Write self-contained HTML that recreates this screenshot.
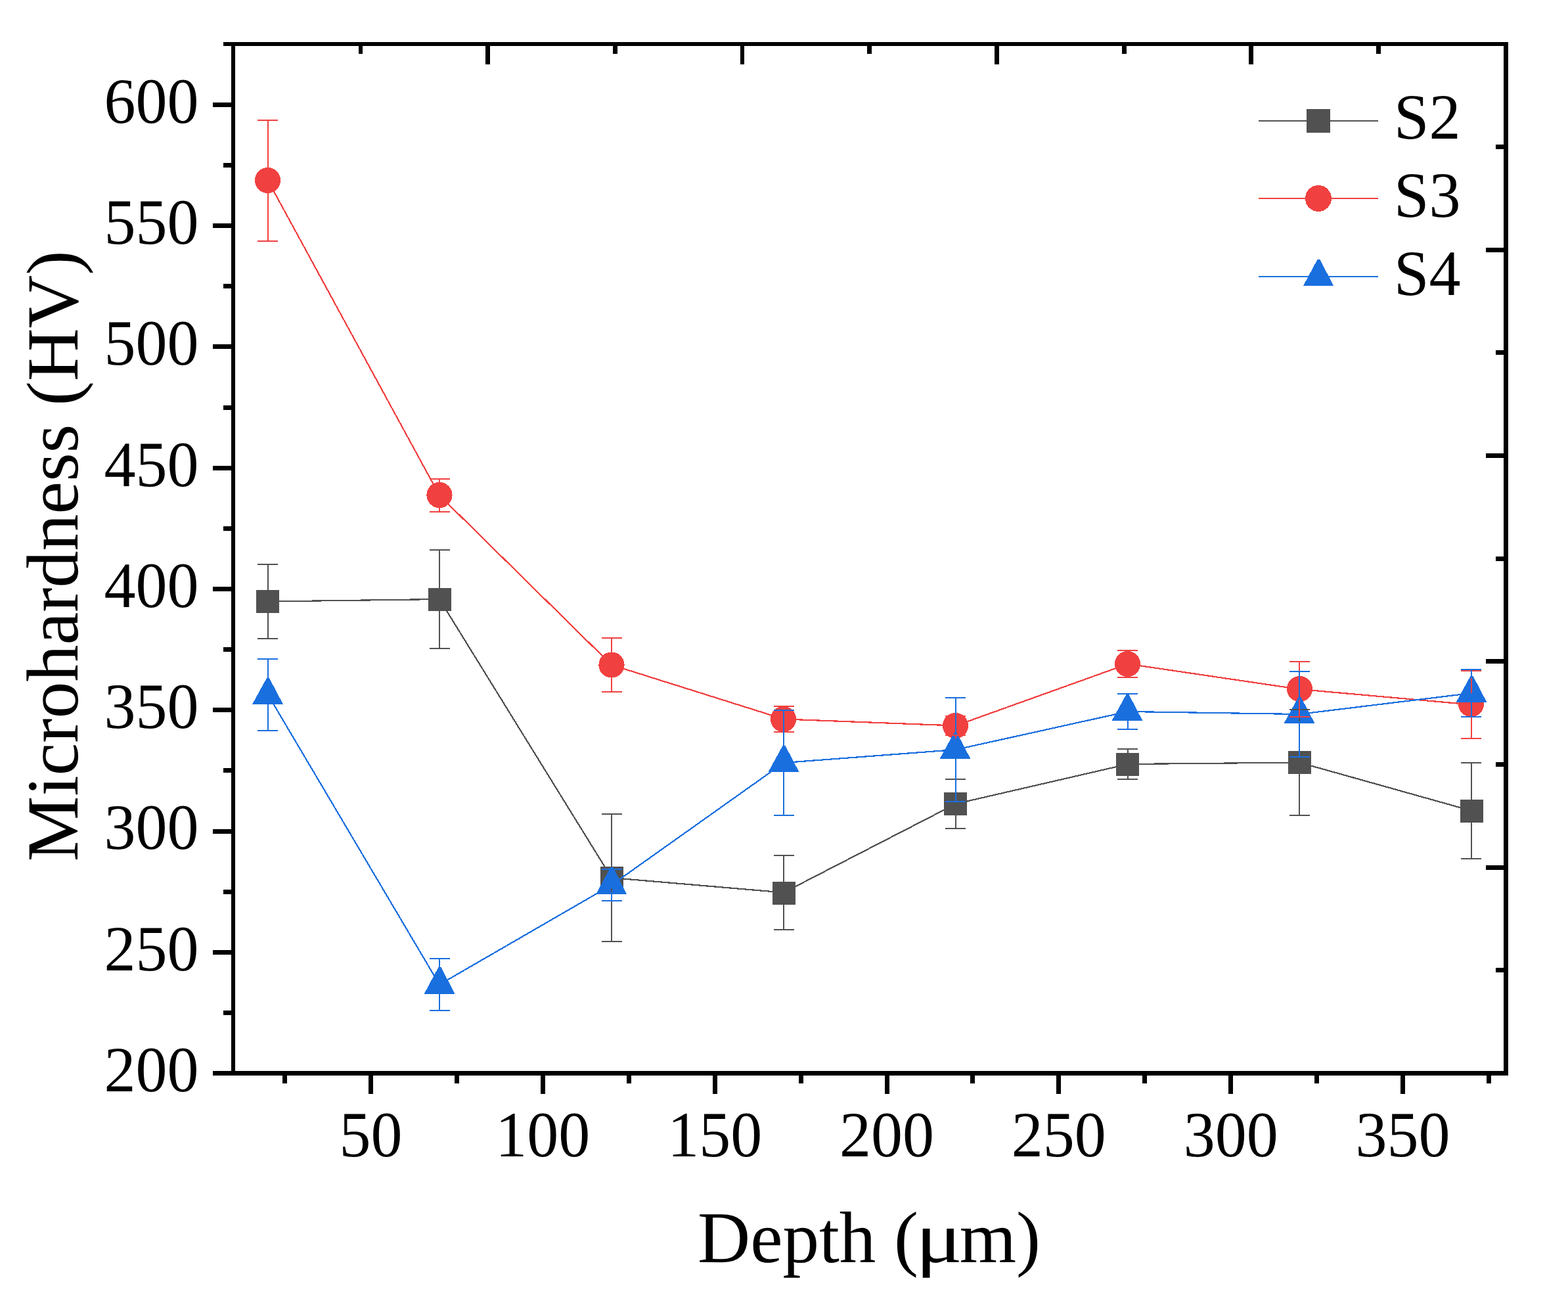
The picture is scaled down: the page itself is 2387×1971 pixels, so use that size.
<!DOCTYPE html>
<html lang="en">
<head>
<meta charset="utf-8">
<title>Microhardness (HV) vs Depth (µm)</title>
<style>
html,body{margin:0;padding:0;background:#fff;}
body{width:2387px;height:1971px;}
svg{display:block;}
text{font-family:"Liberation Serif",serif;fill:#000;font-kerning:none;text-rendering:geometricPrecision;}
.t{font-size:96px;}
.a{font-size:111px;}
.b{font-size:112px;}
</style>
</head>
<body>
<svg width="2387" height="1971" viewBox="0 0 2387 1971" shape-rendering="crispEdges">
<rect x="0" y="0" width="2387" height="1971" fill="#fff"/>
<g id="axes" fill="#000">
<rect x="340" y="64" width="1956" height="6"/>
<rect x="324" y="1630" width="1972" height="7"/>
<rect x="352" y="64" width="6" height="1573"/>
<rect x="2289" y="64" width="7" height="1573"/>
<rect x="340" y="1538" width="12" height="7"/>
<rect x="324" y="1446" width="28" height="7"/>
<rect x="340" y="1354" width="12" height="7"/>
<rect x="324" y="1262" width="28" height="7"/>
<rect x="340" y="1169" width="12" height="7"/>
<rect x="324" y="1077" width="28" height="7"/>
<rect x="340" y="985" width="12" height="7"/>
<rect x="324" y="893" width="28" height="7"/>
<rect x="340" y="801" width="12" height="7"/>
<rect x="324" y="709" width="28" height="7"/>
<rect x="340" y="617" width="12" height="7"/>
<rect x="324" y="524" width="28" height="7"/>
<rect x="340" y="432" width="12" height="7"/>
<rect x="324" y="340" width="28" height="7"/>
<rect x="340" y="248" width="12" height="7"/>
<rect x="324" y="156" width="28" height="7"/>
<rect x="430" y="1637" width="7" height="12"/>
<rect x="561" y="1637" width="7" height="28"/>
<rect x="692" y="1637" width="7" height="12"/>
<rect x="823" y="1637" width="7" height="28"/>
<rect x="954" y="1637" width="7" height="12"/>
<rect x="1085" y="1637" width="7" height="28"/>
<rect x="1216" y="1637" width="7" height="12"/>
<rect x="1347" y="1637" width="7" height="28"/>
<rect x="1477" y="1637" width="7" height="12"/>
<rect x="1608" y="1637" width="7" height="28"/>
<rect x="1739" y="1637" width="7" height="12"/>
<rect x="1870" y="1637" width="7" height="28"/>
<rect x="2001" y="1637" width="7" height="12"/>
<rect x="2132" y="1637" width="7" height="28"/>
<rect x="2263" y="1637" width="7" height="12"/>
<rect x="546" y="70" width="6" height="12"/>
<rect x="739" y="70" width="7" height="28"/>
<rect x="933" y="70" width="7" height="12"/>
<rect x="1127" y="70" width="6" height="28"/>
<rect x="1320" y="70" width="7" height="12"/>
<rect x="1514" y="70" width="7" height="28"/>
<rect x="1708" y="70" width="7" height="12"/>
<rect x="1901" y="70" width="7" height="28"/>
<rect x="2095" y="70" width="7" height="12"/>
<rect x="2277" y="220" width="12" height="7"/>
<rect x="2262" y="377" width="27" height="7"/>
<rect x="2277" y="533" width="12" height="7"/>
<rect x="2262" y="690" width="27" height="7"/>
<rect x="2277" y="847" width="12" height="7"/>
<rect x="2262" y="1003" width="27" height="7"/>
<rect x="2277" y="1160" width="12" height="7"/>
<rect x="2262" y="1317" width="27" height="7"/>
<rect x="2277" y="1473" width="12" height="7"/>
</g>
<g id="plots">
<g fill="#515151" stroke="none">
<polyline points="408,915.5 669,912 931,1336 1193,1358.5 1455,1223.5 1717,1163 1978,1160.5 2240,1234" fill="none" stroke="#515151" stroke-width="2.2"/>
<rect x="390" y="898" width="35" height="35"/>
<rect x="652" y="895" width="35" height="35"/>
<rect x="914" y="1319" width="35" height="35"/>
<rect x="1176" y="1342" width="35" height="35"/>
<rect x="1437" y="1206" width="35" height="35"/>
<rect x="1699" y="1146" width="35" height="35"/>
<rect x="1961" y="1143" width="35" height="35"/>
<rect x="2223" y="1217" width="35" height="35"/>
</g>
<g fill="#F14040" stroke="none">
<polyline points="408,275 669,754 931,1012 1193,1094.5 1455,1104.5 1717,1010.5 1978,1049 2240,1072.5" fill="none" stroke="#F14040" stroke-width="2.2"/>
<circle cx="407.5" cy="274.5" r="19.6"/>
<circle cx="669" cy="753.5" r="19.6"/>
<circle cx="931" cy="1012" r="19.6"/>
<circle cx="1192.5" cy="1094.5" r="19.6"/>
<circle cx="1454.5" cy="1104.5" r="19.6"/>
<circle cx="1716.5" cy="1010.5" r="19.6"/>
<circle cx="1978.5" cy="1048.5" r="19.6"/>
<circle cx="2239.5" cy="1071.5" r="19.6"/>
</g>
<g fill="#1A6FDF" stroke="none">
<polyline points="408,1057.5 669,1498.5 931,1347 1193,1161 1455,1141 1717,1083 1978,1087 2240,1055" fill="none" stroke="#1A6FDF" stroke-width="2.2"/>
<path d="M406 1032h4L431 1072H384Z"/>
<path d="M667.5 1472h4L692.5 1513H645.5Z"/>
<path d="M929.25 1320h4L954.25 1361H907.25Z"/>
<path d="M1191.5 1135h4L1216.5 1175H1169.5Z"/>
<path d="M1452.5 1115h4L1477.5 1155H1430.5Z"/>
<path d="M1714.5 1057h4L1739.5 1097H1692.5Z"/>
<path d="M1976.5 1061h4L2001.5 1101H1954.5Z"/>
<path d="M2238.5 1029h4L2263.5 1069H2216.5Z"/>
</g>
<g fill="#515151">
<rect x="392" y="858" width="31" height="2"/>
<rect x="392" y="971" width="31" height="2"/>
<rect x="407" y="858" width="2" height="42"/>
<rect x="407" y="931" width="2" height="42"/>
<rect x="654" y="836" width="31" height="2"/>
<rect x="654" y="986" width="31" height="2"/>
<rect x="668" y="836" width="2" height="61"/>
<rect x="668" y="928" width="2" height="60"/>
<rect x="916" y="1238" width="31" height="2"/>
<rect x="916" y="1432" width="31" height="2"/>
<rect x="930" y="1238" width="2" height="83"/>
<rect x="930" y="1352" width="2" height="82"/>
<rect x="1178" y="1301" width="31" height="2"/>
<rect x="1178" y="1414" width="31" height="2"/>
<rect x="1192" y="1301" width="2" height="43"/>
<rect x="1192" y="1375" width="2" height="41"/>
<rect x="1439" y="1185" width="31" height="2"/>
<rect x="1439" y="1260" width="31" height="2"/>
<rect x="1454" y="1185" width="2" height="23"/>
<rect x="1454" y="1239" width="2" height="23"/>
<rect x="1701" y="1139" width="31" height="2"/>
<rect x="1701" y="1185" width="31" height="2"/>
<rect x="1716" y="1139" width="2" height="9"/>
<rect x="1716" y="1179" width="2" height="8"/>
<rect x="1963" y="1079" width="31" height="2"/>
<rect x="1963" y="1240" width="31" height="2"/>
<rect x="1977" y="1079" width="2" height="66"/>
<rect x="1977" y="1176" width="2" height="66"/>
<rect x="2224" y="1160" width="31" height="2"/>
<rect x="2224" y="1306" width="31" height="2"/>
<rect x="2239" y="1160" width="2" height="59"/>
<rect x="2239" y="1250" width="2" height="58"/>
</g>
<g fill="#F14040">
<rect x="392" y="182" width="31" height="2"/>
<rect x="392" y="366" width="31" height="2"/>
<rect x="407" y="182" width="2" height="76"/>
<rect x="407" y="291" width="2" height="77"/>
<rect x="654" y="728" width="31" height="2"/>
<rect x="654" y="778" width="31" height="2"/>
<rect x="668" y="728" width="2" height="9"/>
<rect x="668" y="770" width="2" height="10"/>
<rect x="916" y="970" width="31" height="2"/>
<rect x="916" y="1052" width="31" height="2"/>
<rect x="930" y="970" width="2" height="25"/>
<rect x="930" y="1028" width="2" height="26"/>
<rect x="1178" y="1074" width="31" height="2"/>
<rect x="1178" y="1113" width="31" height="2"/>
<rect x="1192" y="1074" width="2" height="4"/>
<rect x="1192" y="1111" width="2" height="4"/>
<rect x="1439" y="1089" width="31" height="2"/>
<rect x="1439" y="1118" width="31" height="2"/>
<rect x="1454" y="1085" width="2" height="4"/>
<rect x="1454" y="1120" width="2" height="4"/>
<rect x="1701" y="989" width="31" height="2"/>
<rect x="1701" y="1030" width="31" height="2"/>
<rect x="1716" y="989" width="2" height="5"/>
<rect x="1716" y="1027" width="2" height="5"/>
<rect x="1963" y="1006" width="31" height="2"/>
<rect x="1963" y="1090" width="31" height="2"/>
<rect x="1977" y="1006" width="2" height="26"/>
<rect x="1977" y="1065" width="2" height="27"/>
<rect x="2224" y="1020" width="31" height="2"/>
<rect x="2224" y="1123" width="31" height="2"/>
<rect x="2239" y="1020" width="2" height="35"/>
<rect x="2239" y="1088" width="2" height="37"/>
</g>
<g fill="#1A6FDF">
<rect x="392" y="1002" width="31" height="2"/>
<rect x="392" y="1111" width="31" height="2"/>
<rect x="407" y="1002" width="2" height="33"/>
<rect x="407" y="1069" width="2" height="44"/>
<rect x="654" y="1458" width="31" height="2"/>
<rect x="654" y="1537" width="31" height="2"/>
<rect x="668" y="1458" width="2" height="17"/>
<rect x="668" y="1510" width="2" height="29"/>
<rect x="916" y="1322" width="31" height="2"/>
<rect x="916" y="1370" width="31" height="2"/>
<rect x="930" y="1320" width="2" height="2"/>
<rect x="930" y="1358" width="2" height="14"/>
<rect x="1178" y="1080" width="31" height="2"/>
<rect x="1178" y="1240" width="31" height="2"/>
<rect x="1192" y="1080" width="2" height="58"/>
<rect x="1192" y="1172" width="2" height="70"/>
<rect x="1439" y="1061" width="31" height="2"/>
<rect x="1439" y="1219" width="31" height="2"/>
<rect x="1454" y="1061" width="2" height="57"/>
<rect x="1454" y="1152" width="2" height="69"/>
<rect x="1701" y="1055" width="31" height="2"/>
<rect x="1701" y="1109" width="31" height="2"/>
<rect x="1716" y="1055" width="2" height="5"/>
<rect x="1716" y="1094" width="2" height="17"/>
<rect x="1963" y="1021" width="31" height="2"/>
<rect x="1963" y="1151" width="31" height="2"/>
<rect x="1977" y="1021" width="2" height="43"/>
<rect x="1977" y="1098" width="2" height="55"/>
<rect x="2224" y="1018" width="31" height="2"/>
<rect x="2224" y="1090" width="31" height="2"/>
<rect x="2239" y="1018" width="2" height="14"/>
<rect x="2239" y="1066" width="2" height="26"/>
</g>
</g>
<g id="legend">
<rect x="1916" y="183" width="182" height="2" fill="#515151"/>
<rect x="1989" y="166" width="36" height="36" fill="#515151"/>
<rect x="1916" y="301" width="182" height="2" fill="#F14040"/>
<circle cx="2007" cy="302" r="20" fill="#F14040"/>
<rect x="1916" y="420" width="182" height="2" fill="#1A6FDF"/>
<path d="M2005.5 395h4L2030 435H1984Z" fill="#1A6FDF"/>
</g>
<g id="labels" shape-rendering="auto">
<text class="t" transform="translate(2122 210.6) scale(1 1.024)">S2</text>
<text class="t" transform="translate(2122 329.6) scale(1 1.024)">S3</text>
<text class="t" transform="translate(2122 448.8) scale(1 1.024)">S4</text>
<text class="t" text-anchor="end" transform="translate(302.6 186.7) scale(1 1.024)">600</text>
<text class="t" text-anchor="end" transform="translate(302.6 370.9) scale(1 1.024)">550</text>
<text class="t" text-anchor="end" transform="translate(302.6 555.2) scale(1 1.024)">500</text>
<text class="t" text-anchor="end" transform="translate(302.6 739.5) scale(1 1.024)">450</text>
<text class="t" text-anchor="end" transform="translate(302.6 923.7) scale(1 1.024)">400</text>
<text class="t" text-anchor="end" transform="translate(302.6 1108) scale(1 1.024)">350</text>
<text class="t" text-anchor="end" transform="translate(302.6 1292.2) scale(1 1.024)">300</text>
<text class="t" text-anchor="end" transform="translate(302.6 1476.5) scale(1 1.024)">250</text>
<text class="t" text-anchor="end" transform="translate(302.6 1660.7) scale(1 1.024)">200</text>
<text class="t" text-anchor="middle" transform="translate(564.5 1759.8) scale(1 1.024)">50</text>
<text class="t" text-anchor="middle" transform="translate(826.3 1759.8) scale(1 1.024)">100</text>
<text class="t" text-anchor="middle" transform="translate(1088.2 1759.8) scale(1 1.024)">150</text>
<text class="t" text-anchor="middle" transform="translate(1350 1759.8) scale(1 1.024)">200</text>
<text class="t" text-anchor="middle" transform="translate(1611.8 1759.8) scale(1 1.024)">250</text>
<text class="t" text-anchor="middle" transform="translate(1873.7 1759.8) scale(1 1.024)">300</text>
<text class="t" text-anchor="middle" transform="translate(2135.5 1759.8) scale(1 1.024)">350</text>
<text class="a" x="1062" y="1921">Depth (<tspan dx="-4" textLength="71" lengthAdjust="spacingAndGlyphs">μ</tspan><tspan dx="-4.3">m)</tspan></text>
<text class="b" transform="translate(118 1311.2) rotate(-90)">Microhardness (HV)</text>
</g>
</svg>
</body>
</html>
